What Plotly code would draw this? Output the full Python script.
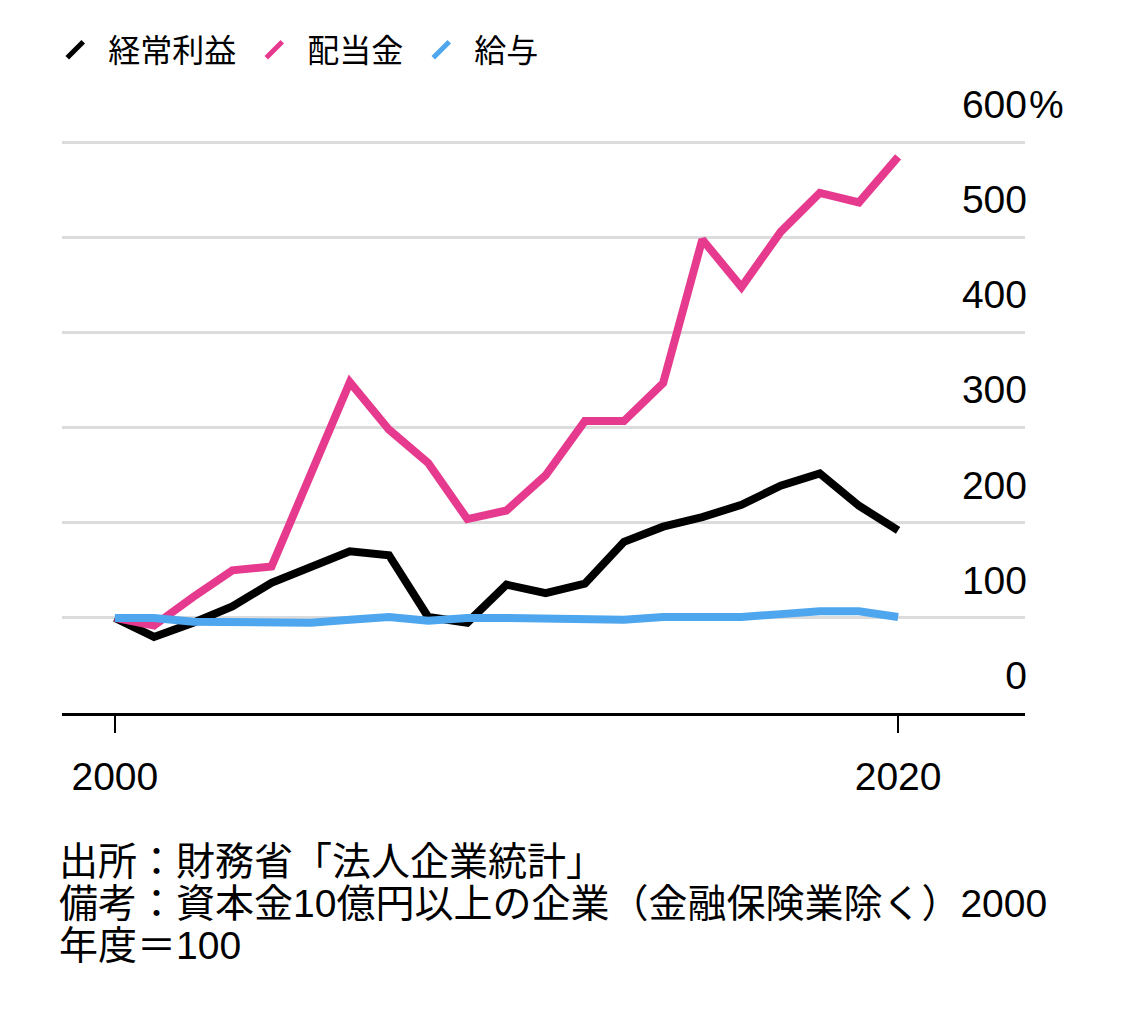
import plotly.graph_objects as go

years = list(range(2000, 2021))
keijo_rieki = [100, 80, 95, 112, 137, 154, 170, 166, 101, 95, 135, 126, 136, 180, 196, 206, 219, 239, 252, 218, 192]
haitokin = [100, 92, 122, 150, 154, 251, 348, 298, 263, 204, 213, 250, 307, 307, 347, 498, 448, 506, 547, 537, 585]
kyuyo = [100, 100, 96, 95, 95, 95, 98, 101, 97, 100, 100, 100, 98, 98, 101, 101, 101, 104, 107, 107, 101]

series_names = ["経常利益", "配当金", "給与"]
series_values = [keijo_rieki, haitokin, kyuyo]
series_colors = ["#000000", "#e63a8e", "#4da6ee"]

y_ticks = [0, 100, 200, 300, 400, 500, 600]
y_ticktext = ["0", "100", "200", "300", "400", "500", "600"]
x_ticks = [2000, 2020]
x_ticktext = ["2000", "2020"]

source_lines = [
    "出所：財務省「法人企業統計」",
    "備考：資本金10億円以上の企業（金融保険業除く）2000",
    "年度＝100",
]

FONT = "Liberation Sans, Noto Sans CJK JP"
# page has an 8px body margin, so the figure is sized to fit inside it
OFF = 8
W, H = 1125 - OFF, 1013 - OFF
M_L, M_R, M_T, M_B = 62 - OFF, 100, 95 - OFF, 300
PLOT_W = W - M_L - M_R
PLOT_H = H - M_T - M_B

fig = go.Figure()
for name, vals, col in zip(series_names, series_values, series_colors):
    fig.add_trace(go.Scatter(x=years, y=vals, mode="lines", name=name,
                             line=dict(color=col, width=8), showlegend=False))
# legend-only entries with diagonal symbol
for name, col in zip(series_names, series_colors):
    fig.add_trace(go.Scatter(x=[None], y=[None], mode="markers", name=name,
                             marker=dict(symbol="line-ne", size=16,
                                         line=dict(color=col, width=5))))

fig.update_layout(
    width=W, height=H,
    margin=dict(l=M_L, r=M_R, t=M_T, b=M_B, autoexpand=False),
    paper_bgcolor="white", plot_bgcolor="white",
    font=dict(family=FONT, size=36, color="#000000"),
    showlegend=True,
    legend=dict(orientation="h", x=-0.006 - 14 / PLOT_W, xanchor="left", y=1 - 42 / H,
                yanchor="middle", xref="paper", yref="container",
                font=dict(size=32, family=FONT, color="#000000"), itemwidth=56,
                traceorder="normal", bgcolor="rgba(0,0,0,0)"),
    xaxis=dict(range=[1998.65, 2023.24], tickvals=x_ticks, ticktext=x_ticktext,
               showgrid=False, zeroline=False, showline=True, linecolor="#000000",
               linewidth=3, ticks="outside", ticklen=17, tickwidth=2, tickcolor="#000000",
               ticklabelstandoff=10, automargin=False,
               tickfont=dict(size=39, family=FONT, color="#000000")),
    yaxis=dict(range=[0, 650], side="right", tickvals=y_ticks, ticktext=y_ticktext,
               showgrid=True, gridcolor="#dcdcdc", gridwidth=3, zeroline=False,
               showline=False, ticks="", ticklabelposition="inside",
               ticklabeloverflow="allow", ticklabelshift=-38, ticklabelstandoff=-5,
               automargin=False,
               tickfont=dict(size=39, family=FONT, color="#000000")),
)

fig.add_annotation(text="%", xref="paper", yref="y", x=1.0, y=600, xanchor="left",
                   yanchor="middle", yshift=38, xshift=2, showarrow=False,
                   font=dict(size=39, family=FONT, color="#000000"))
for i, line in enumerate(source_lines):
    ypix = 861 - OFF + 42 * i
    fig.add_annotation(text=line, xref="paper", yref="paper", x=0.0, xshift=-5,
                       y=(H - M_B - ypix) / PLOT_H, xanchor="left", yanchor="middle",
                       align="left", showarrow=False,
                       font=dict(size=39, family=FONT, color="#000000"))

fig.write_html("out.html")
